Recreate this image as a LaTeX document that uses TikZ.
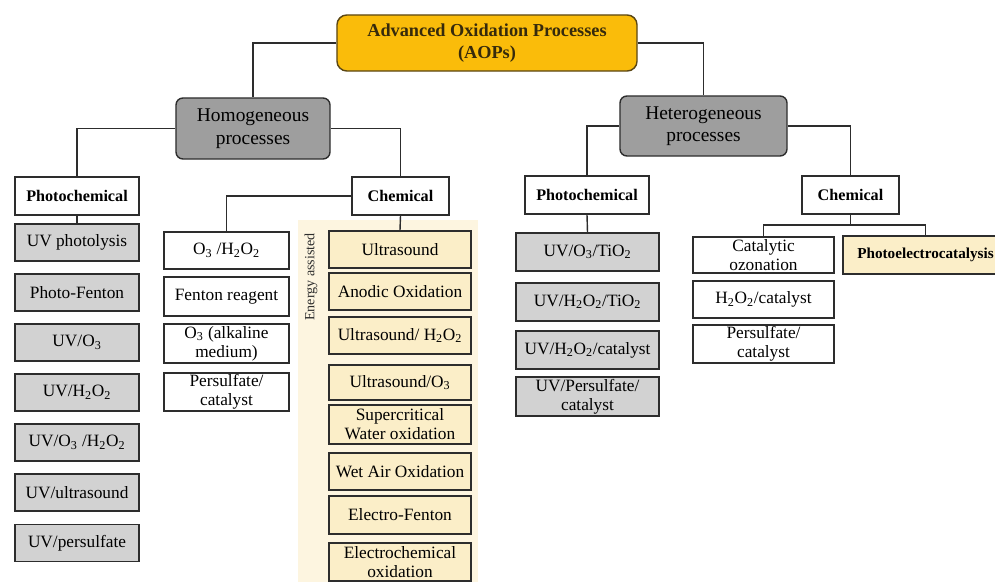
\documentclass[tikz,border=0pt]{standalone}
\usepackage{fontspec}
\setmainfont{Liberation Serif}
\usetikzlibrary{positioning}
\definecolor{linedark}{RGB}{45, 45, 45}
\definecolor{aopgold}{RGB}{250, 188, 10}
\definecolor{aopedge}{RGB}{90, 70, 20}
\definecolor{headgray}{RGB}{158, 158, 158}
\definecolor{boxgray}{RGB}{210, 210, 210}
\definecolor{bandbeige}{RGB}{253, 245, 224}
\definecolor{energyfill}{RGB}{251, 238, 200}
\tikzset{
  proc/.style={draw=linedark, line width=1pt, align=center, inner sep=0.5pt, font=\fontsize{12.3}{13.6}\selectfont},
  headbox/.style={proc, fill=headgray, rounded corners=5pt, font=\fontsize{13.8}{16}\selectfont},
  kindbox/.style={proc, fill=white, minimum height=0.95cm, font=\fontsize{11.5}{13}\selectfont\bfseries},
  graybox/.style={proc, fill=boxgray},
  whitebox/.style={proc, fill=white},
  energybox/.style={proc, fill=energyfill, minimum width=3.55cm, minimum height=0.925cm},
  link/.style={draw=linedark, line width=1pt}
}

\begin{document}
\begin{tikzpicture}[x=0.025cm, y=-0.025cm]
  \useasboundingbox (0,0) rectangle (995,582);

  % Energy assisted band
  \fill[bandbeige] (298,220) rectangle (478,582);
  \node[rotate=90, font=\fontsize{10}{11}\selectfont, text=linedark] (energylbl) at (311,277) {Energy assisted};

  % Top
  \node[proc, fill=aopgold, draw=aopedge, rounded corners=7pt, minimum width=7.5cm, minimum height=1.4cm, text=aopedge!60!black, font=\fontsize{13}{15.5}\selectfont\bfseries] (aop) at (487,43) {Advanced Oxidation Processes\\(AOPs)};

  \node[headbox, minimum width=3.85cm, minimum height=1.525cm] (homo) at (253,128.5) {Homogeneous\\processes};
  \node[headbox, minimum width=4.175cm, minimum height=1.5cm] (hetero) at (703.5,126) {Heterogeneous\\processes};

  % Second level
  \node[kindbox, minimum width=3.1cm] (photoL) at (77,196) {Photochemical};
  \node[kindbox, minimum width=2.425cm] (chemL) at (400.5,196) {Chemical};
  \node[kindbox, minimum width=3.1cm] (photoR) at (587,195) {Photochemical};
  \node[kindbox, minimum width=2.425cm] (chemR) at (850.5,195) {Chemical};

  % Homogeneous photochemical
  \node[graybox, minimum width=3.1cm, minimum height=0.925cm] (uvphoto) at (77,242.5) {UV photolysis};
  \node[graybox, minimum width=3.1cm, minimum height=0.925cm] (phfenton) at (77,292.5) {Photo-Fenton};
  \node[graybox, minimum width=3.1cm, minimum height=0.925cm] (uvo3) at (77,342.5) {UV/O\textsubscript{3}};
  \node[graybox, minimum width=3.1cm, minimum height=0.925cm] (uvh2o2) at (77,392.5) {UV/H\textsubscript{2}O\textsubscript{2}};
  \node[graybox, minimum width=3.1cm, minimum height=0.925cm] (uvo3h2o2) at (77,442.5) {UV/O\textsubscript{3} /H\textsubscript{2}O\textsubscript{2}};
  \node[graybox, minimum width=3.1cm, minimum height=0.925cm] (uvus) at (77,492.5) {UV/ultrasound};
  \node[graybox, minimum width=3.1cm, minimum height=0.925cm] (uvpers) at (77,543) {UV/persulfate};

  % Homogeneous chemical
  \node[whitebox, minimum width=3.125cm, minimum height=0.925cm] (o3h2o2) at (226.5,250.5) {O\textsubscript{3} /H\textsubscript{2}O\textsubscript{2}};
  \node[whitebox, minimum width=3.125cm, minimum height=0.975cm] (fenton) at (226.5,296.5) {Fenton reagent};
  \node[whitebox, minimum width=3.125cm, minimum height=0.975cm] (o3alk) at (226.5,343.5) {O\textsubscript{3} (alkaline\\medium)};
  \node[whitebox, minimum width=3.125cm, minimum height=0.95cm] (persL) at (226.5,392) {Persulfate/\\catalyst};

  % Energy assisted
  \node[energybox] (ultra) at (400,249.5) {Ultrasound};
  \node[energybox] (anodic) at (400,291.5) {Anodic Oxidation};
  \node[energybox] (ush2o2) at (400,335.5) {Ultrasound/ H\textsubscript{2}O\textsubscript{2}};
  \node[energybox, minimum height=0.875cm] (uso3) at (400,382.5) {Ultrasound/O\textsubscript{3}};
  \node[energybox, minimum height=0.975cm] (scwo) at (400,424.5) {Supercritical\\Water oxidation};
  \node[energybox] (wetair) at (400,471.5) {Wet Air Oxidation};
  \node[energybox, minimum height=0.95cm] (elfenton) at (400,515) {Electro-Fenton};
  \node[energybox, minimum height=0.95cm] (elchem) at (400,562) {Electrochemical\\oxidation};

  % Heterogeneous photochemical
  \node[graybox, minimum width=3.575cm, minimum height=0.95cm] (uvo3tio2) at (587.5,252) {UV/O\textsubscript{3}/TiO\textsubscript{2}};
  \node[graybox, minimum width=3.575cm, minimum height=0.95cm] (uvh2o2tio2) at (587.5,302) {UV/H\textsubscript{2}O\textsubscript{2}/TiO\textsubscript{2}};
  \node[graybox, minimum width=3.575cm, minimum height=0.95cm] (uvh2o2cat) at (587.5,350) {UV/H\textsubscript{2}O\textsubscript{2}/catalyst};
  \node[graybox, minimum width=3.575cm, minimum height=0.975cm] (uvperscat) at (587.5,396.5) {UV/Persulfate/\\catalyst};

  % Heterogeneous chemical
  \node[whitebox, minimum width=3.525cm, minimum height=0.9cm] (catozone) at (763.5,255) {Catalytic\\ozonation};
  \node[whitebox, minimum width=3.525cm, minimum height=0.925cm] (h2o2cat) at (763.5,299.5) {H\textsubscript{2}O\textsubscript{2}/catalyst};
  \node[whitebox, minimum width=3.525cm, minimum height=0.95cm] (persR) at (763.5,344) {Persulfate/\\catalyst};
  \node[proc, fill=energyfill, minimum width=4.125cm, minimum height=0.95cm, font=\fontsize{10.8}{12}\selectfont\bfseries] (photoelec) at (925.5,255) {Photoelectrocatalysis};

  % Connectors
  \draw[link] (aop.west) -| (homo.north);
  \draw[link] (aop.east) -| (hetero.north);
  \draw[link] (homo.west) -| (photoL.north);
  \draw[link] (homo.east) -| (chemL.north);
  \draw[link] (hetero.west) -| (photoR.north);
  \draw[link] (hetero.east) -| (chemR.north);
  \draw[link] (photoL.south) -- (uvphoto.north);
  \draw[link] (chemL.west) -| (o3h2o2.north);
  \draw[link] (chemL.south) -- (ultra.north);
  \draw[link] (photoR.south) -- (uvo3tio2.north);
  \coordinate (split) at (850.5,225);
  \draw[link] (chemR.south) -- (split);
  \draw[link] (catozone.north) |- (split) -| (photoelec.north);
\end{tikzpicture}
\end{document}
